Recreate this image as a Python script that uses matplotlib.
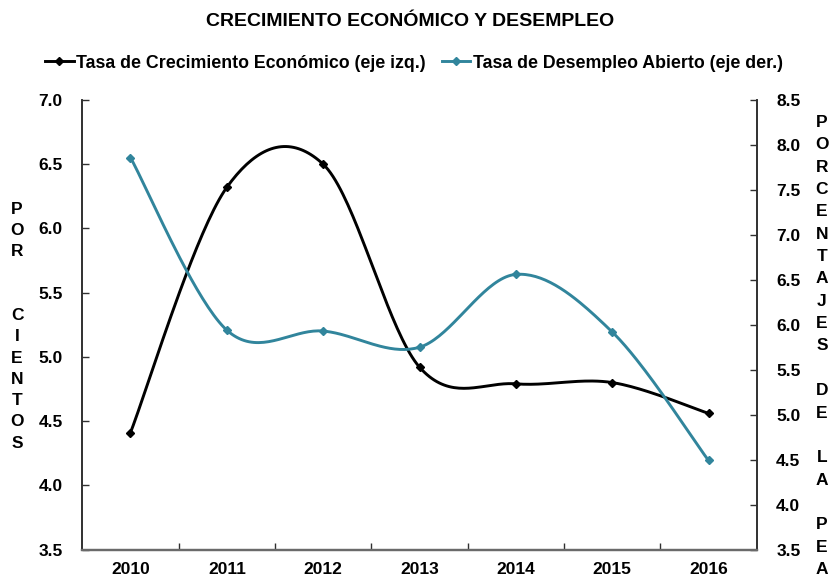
import numpy as np
import matplotlib
matplotlib.use("Agg")
import matplotlib.pyplot as plt
from matplotlib.lines import Line2D
from matplotlib.ticker import FormatStrFormatter, MultipleLocator, FixedLocator

plt.rcParams['font.family'] = ['Liberation Sans', 'DejaVu Sans']
plt.rcParams['font.weight'] = 'bold'

# ---- data ----
years = ["2010", "2011", "2012", "2013", "2014", "2015", "2016"]
crecimiento = [4.41, 6.32, 6.50, 4.92, 4.79, 4.80, 4.56]
desempleo = [7.86, 5.94, 5.93, 5.75, 6.56, 5.92, 4.49]

title = "CRECIMIENTO ECONÓMICO Y DESEMPLEO"
label_crec = "Tasa de Crecimiento Económico (eje izq.)"
label_des = "Tasa de Desempleo Abierto (eje der.)"
left_label = ["P", "O", "R", "", "", "C", "I", "E", "N", "T", "O", "S"]
right_label = ["P", "O", "R", "C", "E", "N", "T", "A", "J", "E", "S", "",
               "D", "E", "", "L", "A", "", "P", "E", "A"]

BLUE = "#31859C"
SPINE = "#303030"
FS = 12.5


def smooth(xs, ys, n=40):
    """Excel-like smoothed line (Catmull-Rom as cubic Bezier)."""
    xs = np.asarray(xs, float)
    ys = np.asarray(ys, float)
    px = np.concatenate([[xs[0]], xs, [xs[-1]]])
    py = np.concatenate([[ys[0]], ys, [ys[-1]]])
    outx, outy = [], []
    t = np.linspace(0, 1, n)
    for i in range(1, len(px) - 2):
        p0x, p1x, p2x, p3x = px[i - 1], px[i], px[i + 1], px[i + 2]
        p0y, p1y, p2y, p3y = py[i - 1], py[i], py[i + 1], py[i + 2]
        c1x = p1x + (p2x - p0x) / 6
        c1y = p1y + (p2y - p0y) / 6
        c2x = p2x - (p3x - p1x) / 6
        c2y = p2y - (p3y - p1y) / 6
        bx = (1 - t) ** 3 * p1x + 3 * (1 - t) ** 2 * t * c1x + 3 * (1 - t) * t ** 2 * c2x + t ** 3 * p2x
        by = (1 - t) ** 3 * p1y + 3 * (1 - t) ** 2 * t * c1y + 3 * (1 - t) * t ** 2 * c2y + t ** 3 * p2y
        outx.extend(bx)
        outy.extend(by)
    return np.array(outx), np.array(outy)


W, H = 833, 578
fig = plt.figure(figsize=(W / 100, H / 100), dpi=100)
fig.subplots_adjust(left=82.3 / W, right=756.7 / W, top=1 - 100 / H, bottom=1 - 549.5 / H)
ax = fig.add_subplot(111)
ax2 = ax.twinx()

x = np.arange(len(years))

# black series on left axis
sx, sy = smooth(x, crecimiento)
ax.plot(sx, sy, color="black", lw=2.1, solid_capstyle="round", zorder=3)
ax.plot(x, crecimiento, ls="none", marker="D", ms=4, color="black", zorder=4)

# blue series on right axis
bx, by = smooth(x, desempleo)
ax2.plot(bx, by, color=BLUE, lw=2.1, solid_capstyle="round", zorder=3)
ax2.plot(x, desempleo, ls="none", marker="D", ms=4, color=BLUE, zorder=4)

ax.set_xlim(-0.5, len(years) - 0.5)
ax.set_ylim(3.5, 7.0)
ax2.set_ylim(3.5, 8.5)

ax.yaxis.set_major_locator(MultipleLocator(0.5))
ax2.yaxis.set_major_locator(MultipleLocator(0.5))
ax.yaxis.set_major_formatter(FormatStrFormatter("%.1f"))
ax2.yaxis.set_major_formatter(FormatStrFormatter("%.1f"))

ax.set_xticks(x)
ax.set_xticklabels(years)
ax.xaxis.set_minor_locator(FixedLocator(np.arange(0.5, len(years) - 0.5, 1.0)))
ax.tick_params(axis="x", which="major", length=0, pad=9, labelsize=FS)
ax.tick_params(axis="x", which="minor", direction="in", length=5, color=SPINE, width=1)
ax.tick_params(axis="y", direction="in", length=5, color=SPINE, width=1, pad=14, labelsize=FS)
ax2.tick_params(axis="y", direction="in", length=5, color=SPINE, width=1, pad=14, labelsize=FS)

for a in (ax, ax2):
    a.spines["top"].set_visible(False)
    for s in ("left", "right"):
        a.spines[s].set_color(SPINE)
        a.spines[s].set_linewidth(1.2)
    a.spines["bottom"].set_color("#6a6a6a")
    a.spines["bottom"].set_linewidth(1.6)
    for lab in a.get_xticklabels() + a.get_yticklabels():
        lab.set_fontweight("bold")

# title
fig.text(410 / W, 1 - 22 / H, title, ha="center", va="center", fontsize=14, fontweight="bold")

# legend
handles = [
    Line2D([], [], color="black", lw=2.1, marker="D", ms=4),
    Line2D([], [], color=BLUE, lw=2.1, marker="D", ms=4),
]
fig.legend(handles, [label_crec, label_des], loc="center", bbox_to_anchor=(414 / W, 1 - 63 / H),
           ncol=2, frameon=False, handlelength=1.6, handletextpad=0.15, columnspacing=0.9,
           prop={"weight": "bold", "size": 12.8})

# vertical stacked axis labels
for i, ch in enumerate(left_label):
    if ch:
        fig.text(17 / W, 1 - (209 + i * 21.3) / H, ch, ha="center", va="center",
                 fontsize=FS, fontweight="bold")
for i, ch in enumerate(right_label):
    if ch:
        fig.text(822 / W, 1 - (122.5 + i * 22.35) / H, ch, ha="center", va="center",
                 fontsize=FS, fontweight="bold")

fig.savefig("out.png", dpi=100)
